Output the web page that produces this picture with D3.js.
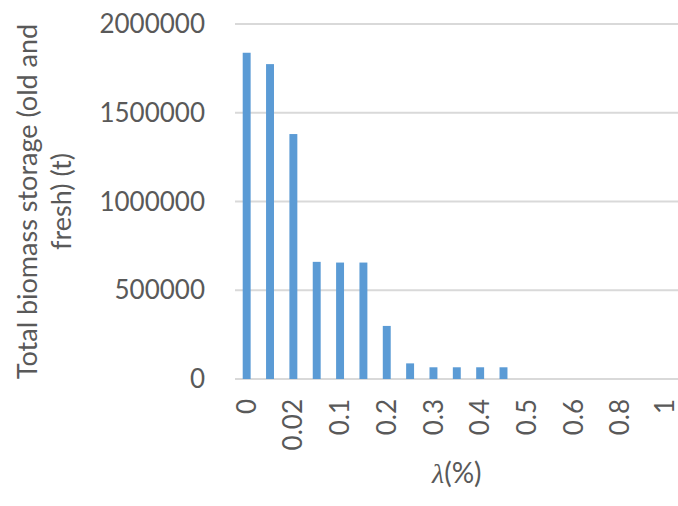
<!DOCTYPE html>
<html>
<head>
<meta charset="utf-8">
<script src="https://cdn.jsdelivr.net/npm/d3@7"></script>
<style>
  body { margin: 0; background: white; }
  text { font-family: Lato, "Open Sans", sans-serif; fill: #595959; }
</style>
</head>
<body>
<div id="container"></div>
<script>
let w = 678;
let h = 506;

// data
let lambdas = ["0", "0.01", "0.02", "0.05", "0.1", "0.15", "0.2", "0.25", "0.3", "0.35",
               "0.4", "0.45", "0.5", "0.55", "0.6", "0.7", "0.8", "0.9", "1"];
let biomass = [1838000, 1774000, 1380000, 660000, 656000, 656000, 299000, 88000, 66000, 66000,
               66000, 66000, 0, 0, 0, 0, 0, 0, 0];
let yTicks = [0, 500000, 1000000, 1500000, 2000000];

let plotLeft = 235, plotRight = 678.6, plotTop = 24, plotBottom = 379;

let viz = d3.select("#container").append("svg")
    .attr("width", w)
    .attr("height", h)
    .style("background-color", "white");

let xScale = d3.scaleBand().domain(lambdas).range([plotLeft, plotRight]).paddingInner(0.66).paddingOuter(0.33);
let yScale = d3.scaleLinear().domain([0, 2000000]).range([plotBottom, plotTop]);

// gridlines
viz.append("g").selectAll("line").data(yTicks).enter()
  .append("line")
    .attr("x1", plotLeft)
    .attr("x2", w)
    .attr("y1", d => yScale(d))
    .attr("y2", d => yScale(d))
    .attr("stroke", "#d9d9d9")
    .attr("stroke-width", 2);

// y tick labels
viz.append("g").selectAll("text").data(yTicks).enter()
  .append("text")
    .attr("x", 205)
    .attr("y", d => yScale(d))
    .attr("dy", "0.35em")
    .attr("text-anchor", "end")
    .style("font-size", "26px")
    .text(d => d);

// bars
viz.append("g").selectAll("rect").data(biomass).enter()
  .append("rect")
    .attr("x", (d, i) => xScale(lambdas[i]))
    .attr("width", xScale.bandwidth())
    .attr("y", d => yScale(d))
    .attr("height", d => plotBottom - yScale(d))
    .attr("fill", "#5b9bd5");

// x tick labels, every other one (last one nudged in so it is not clipped)
viz.append("g").selectAll("text").data(lambdas.filter((d, i) => i % 2 == 0)).enter()
  .append("text")
    .attr("transform", d => "translate(" + Math.min(xScale(d) + xScale.bandwidth() / 2, 665) + ",399) rotate(-90)")
    .attr("dy", "0.35em")
    .attr("text-anchor", "end")
    .style("font-size", "26px")
    .text(d => d);

// y title
let yt = viz.append("text")
    .attr("transform", "translate(0," + (plotTop + plotBottom) / 2 + ") rotate(-90)")
    .attr("text-anchor", "middle")
    .style("font-size", "27px");
yt.append("tspan").attr("x", 0).attr("y", 37).text("Total biomass storage (old and");
yt.append("tspan").attr("x", 0).attr("y", 71).text("fresh) (t)");

// x title
let xt = viz.append("text")
    .attr("x", (plotLeft + plotRight) / 2)
    .attr("y", 483)
    .attr("text-anchor", "middle")
    .style("font-size", "28px");
xt.append("tspan").style("font-style", "italic").style("font-family", "'Liberation Serif', serif").text("λ");
xt.append("tspan").text("(%)");
</script>
</body>
</html>
